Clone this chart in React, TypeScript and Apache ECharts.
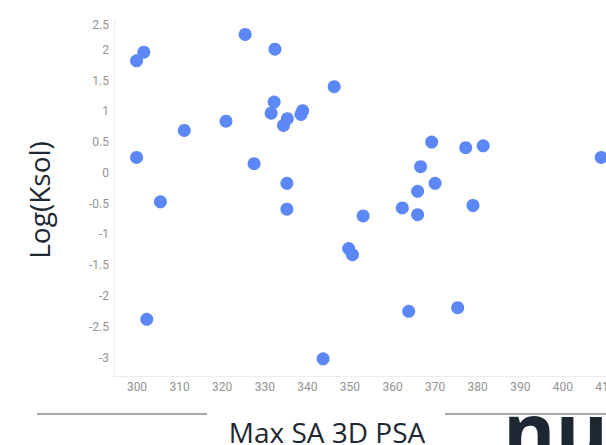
import React, { useEffect, useRef } from "react";
import * as echarts from "echarts";

const psa = [
  299.9, 301.6, 325.4, 332.4, 332.2, 331.5, 335.3, 334.4, 338.9, 338.5,
  320.9, 311.1, 299.9, 327.5, 335.2, 305.5, 335.2, 346.3, 369.2, 377.2,
  381.3, 409.0, 366.6, 370.0, 365.9, 378.9, 362.3, 353.1, 365.9, 349.7,
  350.6, 363.8, 375.3, 343.7, 302.3,
];
const logKsol = [
  1.82, 1.96, 2.25, 2.01, 1.15, 0.97, 0.88, 0.77, 1.01, 0.95,
  0.84, 0.69, 0.25, 0.15, -0.17, -0.47, -0.59, 1.40, 0.50, 0.41,
  0.44, 0.25, 0.10, -0.17, -0.30, -0.53, -0.57, -0.70, -0.68, -1.23,
  -1.33, -2.25, -2.19, -3.02, -2.38,
];
const xTicks = [300, 310, 320, 330, 340, 350, 360, 370, 380, 390, 400, 410];
const yTicks = [-3, -2.5, -2, -1.5, -1, -0.5, 0, 0.5, 1, 1.5, 2, 2.5];

const xTitle = "Max SA 3D PSA";
const yTitle = "Log(Ksol)";
const cornerText = "nu";

export default function App() {
  const ref = useRef<HTMLDivElement>(null);
  useEffect(() => {
    const chart = echarts.init(ref.current!, undefined, { renderer: "svg" });
    const labelStyle = { color: "#939393", fontFamily: "Roboto", fontSize: 12 };
    chart.setOption({
      animation: false,
      backgroundColor: "#ffffff",
      grid: { left: 114, right: 0, top: 19, bottom: 69 },
      xAxis: {
        type: "value",
        min: 294.6,
        max: 420,
        axisLine: { show: true, onZero: false, lineStyle: { color: "#ececec", width: 1 } },
        axisTick: { show: false },
        splitLine: { show: false },
        axisLabel: { ...labelStyle, customValues: xTicks, margin: 5 },
      },
      yAxis: {
        type: "value",
        min: -3.3,
        max: 2.5,
        axisLine: { show: true, onZero: false, lineStyle: { color: "#ececec", width: 1 } },
        axisTick: { show: false },
        splitLine: { show: false },
        axisLabel: {
          ...labelStyle,
          customValues: yTicks,
          margin: 5,
          formatter: (v: number) => (v === 2.5 ? "{t|2.5}" : String(v)),
          rich: { t: { ...labelStyle, padding: [12, 0, 0, 0] } },
        },
      },
      series: [
        {
          type: "scatter",
          data: psa.map((x, i) => [x, logKsol[i]]),
          symbolSize: 13,
          itemStyle: { color: "#5b88f6", opacity: 1 },
          clip: false,
        },
      ],
      graphic: [
        {
          type: "text",
          x: 39,
          y: 200,
          rotation: Math.PI / 2,
          style: {
            text: yTitle,
            fontSize: 28,
            fontFamily: "Open Sans",
            fill: "#1e2832",
            align: "center",
            verticalAlign: "middle",
          },
        },
        {
          type: "text",
          x: 327,
          y: 432,
          style: {
            text: xTitle,
            fontSize: 28,
            fontFamily: "Open Sans",
            fill: "#1e2832",
            align: "center",
            verticalAlign: "middle",
          },
        },
        {
          type: "text",
          x: 503,
          y: 429,
          z: 1,
          style: {
            text: cornerText,
            fontSize: 80,
            fontWeight: "bold",
            fontFamily: "Open Sans",
            fill: "#1e2832",
            align: "left",
            verticalAlign: "middle",
          },
        },
        {
          type: "line",
          z: 2,
          shape: { x1: 37, y1: 414, x2: 207, y2: 414 },
          style: { stroke: "#8a8a8a", lineWidth: 1.5 },
        },
        {
          type: "line",
          z: 2,
          shape: { x1: 445, y1: 414, x2: 606, y2: 414 },
          style: { stroke: "#8a8a8a", lineWidth: 1.5 },
        },
      ],
    });
    return () => chart.dispose();
  }, []);
  return (
    <div style={{ position: "absolute", left: 0, top: 0, width: 606, height: 445, overflow: "hidden" }}>
      <div ref={ref} style={{ width: 648, height: 445 }} />
    </div>
  );
}
